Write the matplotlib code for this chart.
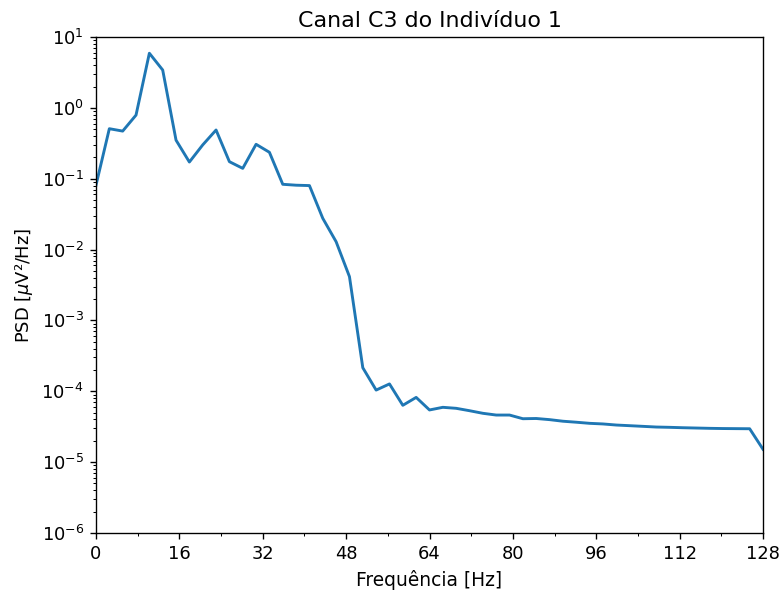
import numpy as np
import matplotlib
matplotlib.use("Agg")
import matplotlib.pyplot as plt
from matplotlib.ticker import MultipleLocator

freq_step = 2.56
psd = [0.081, 0.508, 0.47, 0.79, 5.9, 3.42, 0.35, 0.172, 0.30, 0.487,
       0.174, 0.140, 0.306, 0.236, 0.0834, 0.081, 0.080, 0.0276, 0.0129, 0.00415,
       2.15e-4, 1.04e-4, 1.27e-4, 6.34e-5, 8.2e-5, 5.45e-5, 5.94e-5, 5.75e-5, 5.32e-5, 4.89e-5,
       4.62e-5, 4.62e-5, 4.1e-5, 4.13e-5, 3.98e-5, 3.78e-5, 3.66e-5, 3.53e-5, 3.46e-5, 3.34e-5,
       3.27e-5, 3.2e-5, 3.13e-5, 3.10e-5, 3.06e-5, 3.03e-5, 3.0e-5, 2.98e-5, 2.97e-5, 2.96e-5,
       1.52e-5]
freqs = np.arange(len(psd)) * freq_step
xticks = [0, 16, 32, 48, 64, 80, 96, 112, 128]

dpi = 122.3
fig = plt.figure(figsize=(783 / dpi, 593 / dpi), dpi=dpi)
ax = fig.add_axes([96 / 783, 1 - 533 / 593, (763 - 96) / 783, (533 - 37) / 593])
ax.semilogy(freqs, psd, color="#1f77b4", lw=1.7)
ax.set_xlim(0, 128)
ax.set_ylim(1e-6, 1e1)
ax.set_xticks(xticks)
ax.xaxis.set_minor_locator(MultipleLocator(8))
ax.tick_params(labelsize=10.5)
ax.set_xlabel("Frequência [Hz]", fontsize=11)
ax.set_ylabel("PSD [$\\mu$V²/Hz]", fontsize=10.5)
ax.set_title("Canal C3 do Indivíduo 1", fontsize=13)
fig.savefig("out.png", dpi=dpi)
